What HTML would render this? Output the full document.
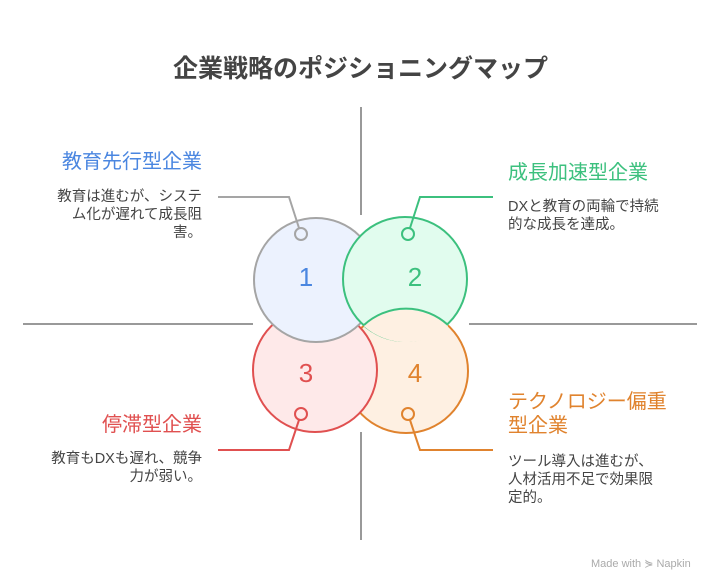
<!DOCTYPE html>
<html><head><meta charset="utf-8"><style>
body{margin:0;width:721px;height:588px;background:#fff;position:relative;overflow:hidden;font-family:"Liberation Sans","Noto Sans CJK JP",sans-serif}
.t{position:absolute;white-space:nowrap}
.h{font-size:20px;line-height:24px}
.b{font-size:14.5px;line-height:18px;color:#444}
.r{text-align:right}
</style></head><body>
<div class="t" style="left:0;width:721px;top:49px;text-align:center;font-size:25px;font-weight:bold;color:#444">企業戦略のポジショニングマップ</div>
<svg width="721" height="588" style="position:absolute;left:0;top:0">
<g stroke="#999" stroke-width="2">
<line x1="361" y1="107" x2="361" y2="215"/><line x1="361" y1="432" x2="361" y2="540"/>
<line x1="23" y1="324" x2="253" y2="324"/><line x1="469" y1="324" x2="697" y2="324"/>
</g>
<g stroke-width="2">
<circle cx="406" cy="371" r="62" fill="#fef0e2" stroke="#e0832e"/>
<circle cx="315" cy="370" r="62" fill="#fee9e9" stroke="#e05050"/>
<circle cx="316" cy="280" r="62" fill="#ecf2fe" stroke="#a5a5a5"/>
<circle cx="405" cy="279" r="62" fill="#e1fcee" stroke="#3cc07e"/>
<path d="M366,326 A62,62 0 0 1 446,326 A62,62 0 0 1 366,326 Z" fill="#fef0e2" stroke="#fef0e2" stroke-width="3"/>
<path d="M364,325 A62,62 0 0 1 448,325" fill="none" stroke="#3cc07e"/>
</g>
<g fill="none" stroke-width="2">
<path d="M218,197 H289 L299,228" stroke="#a5a5a5"/><circle cx="301" cy="234" r="6" stroke="#a5a5a5"/>
<path d="M493,197 H420 L410,228" stroke="#3cc07e"/><circle cx="408" cy="234" r="6" stroke="#3cc07e"/>
<path d="M218,450 H289 L299,420" stroke="#e05050"/><circle cx="301" cy="414" r="6" stroke="#e05050"/>
<path d="M493,450 H420 L410,420" stroke="#e0832e"/><circle cx="408" cy="414" r="6" stroke="#e0832e"/>
</g>
<g font-family="Liberation Sans, sans-serif" font-size="26" text-anchor="middle">
<text x="306" y="286" fill="#4a86e0">1</text>
<text x="415" y="286" fill="#3cc07e">2</text>
<text x="306" y="382" fill="#e05050">3</text>
<text x="415" y="382" fill="#e0832e">4</text>
</g>
</svg>
<div class="t h r" style="right:519px;top:150px;color:#4a86e0">教育先行型企業</div>
<div class="t b r" style="right:519px;top:188px">教育は進むが、システ<br>ム化が遅れて成長阻<br>害。</div>
<div class="t h" style="left:508px;top:161px;color:#3cc07e">成長加速型企業</div>
<div class="t b" style="left:508px;top:198px">DXと教育の両輪で持続<br>的な成長を達成。</div>
<div class="t h r" style="right:519px;top:413px;color:#e05050">停滞型企業</div>
<div class="t b r" style="right:519px;top:450px">教育もDXも遅れ、競争<br>力が弱い。</div>
<div class="t h" style="left:508px;top:390px;color:#e0832e">テクノロジー偏重<br>型企業</div>
<div class="t b" style="left:508px;top:453px">ツール導入は進むが、<br>人材活用不足で効果限<br>定的。</div>
<div class="t" style="left:591px;top:557px;font-size:11px;color:#aaa">Made with ⋟ Napkin</div>
</body></html>
